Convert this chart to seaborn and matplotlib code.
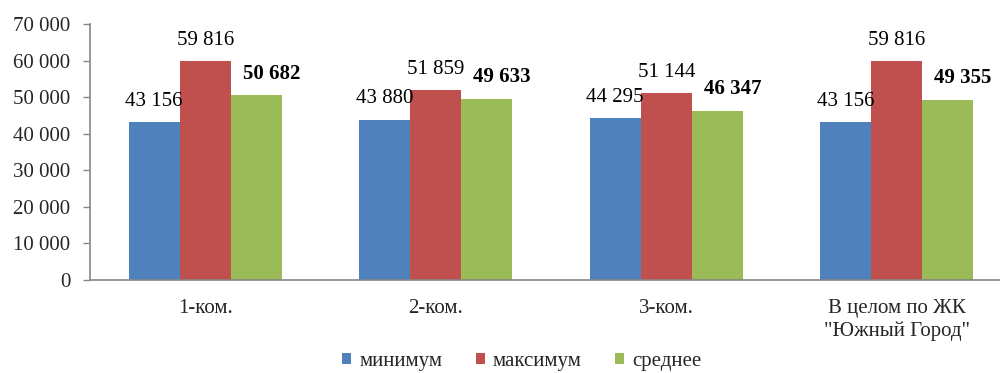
import matplotlib
matplotlib.use("Agg")
import matplotlib.pyplot as plt
import seaborn as sns
import pandas as pd
from matplotlib.patches import Patch
from matplotlib.ticker import FuncFormatter, FixedLocator

categories = ["1-ком.", "2-ком.", "3-ком.", "В целом по ЖК\n\"Южный Город\""]
series_names = ["минимум", "максимум", "среднее"]
min_vals = [43156, 43880, 44295, 43156]
max_vals = [59816, 51859, 51144, 59816]
avg_vals = [50682, 49633, 46347, 49355]
colors = ["#4F81BD", "#C0504D", "#9BBB59"]

rows = []
for name, vals in zip(series_names, [min_vals, max_vals, avg_vals]):
    for c, v in zip(categories, vals):
        rows.append({"cat": c, "series": name, "value": v})
df = pd.DataFrame(rows)

sns.set_style("white")
plt.rcParams["font.family"] = ["Liberation Serif", "DejaVu Serif"]

fig = plt.figure(figsize=(10, 3.73), dpi=100)
ax = fig.add_axes([0.09, 0.2493, 0.922, 0.6863])

sns.barplot(data=df, x="cat", y="value", hue="series", order=categories,
            hue_order=series_names, palette=colors, saturation=1,
            width=0.665, ax=ax, legend=False, errorbar=None, linewidth=0)

fs = 15
for i, cont in enumerate(ax.containers):
    for bar, v in zip(cont, cont.datavalues):
        lbl = f"{int(v):,}".replace(",", " ")
        xc = bar.get_x() + bar.get_width() / 2
        ax.annotate(lbl, xy=(xc, bar.get_height()),
                    xytext=(11 if i == 2 else 0, 8), textcoords="offset points",
                    ha="center", va="bottom", fontsize=fs,
                    fontweight="bold" if i == 2 else "normal", color="black")

ax.set_ylim(0, 70000)
ax.set_xlim(-0.5, 3.5)
ax.set_yticks(range(0, 70001, 10000))
ax.yaxis.set_major_formatter(FuncFormatter(lambda v, p: f"{int(v):,}".replace(",", " ")))
ax.set_xticks(range(4))
ax.set_xticklabels(categories)
ax.xaxis.set_minor_locator(FixedLocator([0.5, 1.5, 2.5]))
ax.tick_params(axis="x", which="major", length=0, pad=14, labelsize=fs)
ax.tick_params(axis="x", which="minor", length=5, color="#868686", width=1, direction="out")
ax.tick_params(axis="y", length=5, color="#868686", width=1, direction="out",
               labelsize=fs, pad=9, left=True)
ax.set_xlabel("")
ax.set_ylabel("")
for s in ["top", "right"]:
    ax.spines[s].set_visible(False)
for s in ["left", "bottom"]:
    ax.spines[s].set_color("#868686")
    ax.spines[s].set_linewidth(1.2)

handles = [Patch(facecolor=c, edgecolor="none", label=n) for c, n in zip(colors, series_names)]
fig.legend(handles=handles, loc="center", bbox_to_anchor=(0.522, 0.03), ncol=3,
           frameon=False, fontsize=fs, handlelength=0.42, handleheight=0.42,
           handletextpad=0.4, columnspacing=1.6)

fig.savefig("out.png", dpi=100)
